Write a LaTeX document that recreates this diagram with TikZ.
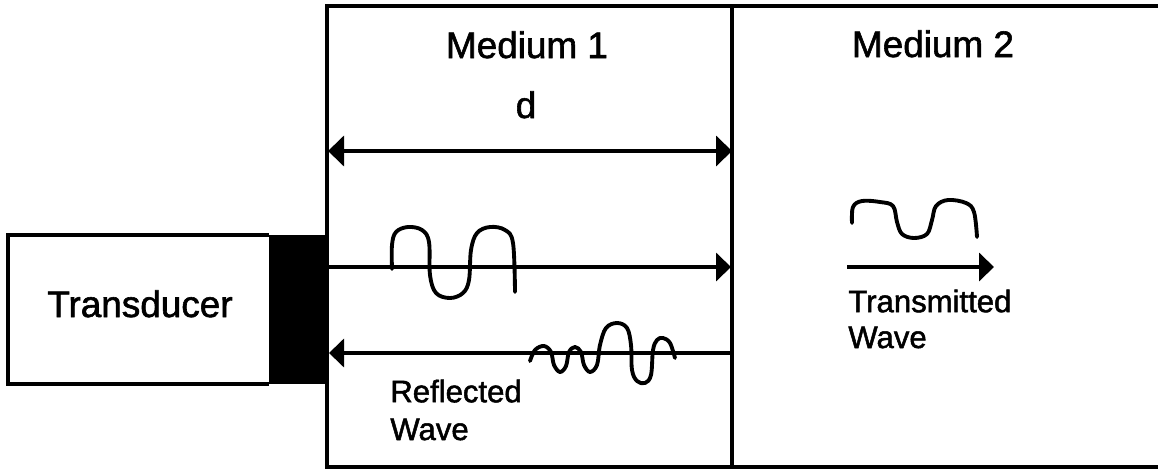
\documentclass[tikz,border=0pt]{standalone}
\usepackage{fontspec}
\setmainfont[FakeBold=1.6]{Liberation Sans}
\usetikzlibrary{arrows.meta}
\tikzset{
  boxline/.style={line width=1.8pt},
  arrline/.style={line width=2.2pt},
  wavy/.style={line width=2.2pt, line cap=round, line join=round},
  tip/.style={-{Triangle[length=0.3cm,width=0.56cm]}},
  bigtext/.style={font=\fontsize{21}{25}\selectfont, inner sep=0pt},
  smalltext/.style={font=\fontsize{17.7}{21.5}\selectfont, inner sep=0pt, align=left},
}
\begin{document}
\begin{tikzpicture}[x=0.02cm,y=-0.02cm]
\useasboundingbox (0,0) rectangle (1158,470);
% media
\draw[boxline] (1158,6) -- (327,6) -- (327,467) -- (1158,467);
\draw[boxline] (732,6) -- (732,467);
% transducer
\fill (269,235) rectangle (327,384);
\draw[boxline] (269,235) -- (8,235) -- (8,384) -- (269,384);
\node[bigtext, anchor=base west] (tr) at (47,317) {Transducer};
% labels
\node[bigtext, anchor=base] (m1) at (527,58) {Medium 1};
\node[bigtext, anchor=base] (dlab) at (526,118) {d};
\node[bigtext, anchor=base] (m2) at (933,57) {Medium 2};
% dimension arrow
\coordinate (dl) at (328,151);
\coordinate (dr) at (732,151);
\draw[arrline, {Triangle[length=0.32cm,width=0.6cm]}-{Triangle[length=0.32cm,width=0.6cm]}] (dl) -- (dr);
% forward arrow
\coordinate (fl) at (328,267);
\coordinate (fr) at (731,267);
\draw[arrline, tip] (fl) -- (fr);
% reflected arrow
\coordinate (rl) at (329,353);
\coordinate (rr) at (732,353);
\draw[arrline, tip] (rr) -- (rl);
% transmitted arrow
\coordinate (tl) at (847,267);
\coordinate (trr) at (994,267);
\draw[arrline, tip] (tl) -- (trr);
% waves
\draw[wavy] plot[smooth, tension=0.6] coordinates {(392,269) (392,245) (396,232) (408,227) (422,230) (429,242) (430,275) (436,293) (450,298) (463,293) (469,280) (471,250) (477,233) (490,227) (505,230) (513,243) (515,292)};
\draw[wavy] plot[smooth, tension=0.6] coordinates {(530,361) (535,350) (544,346) (551,352) (554,365) (560,372) (566,366) (569,352) (575,347) (581,352) (584,365) (590,372) (597,365) (600,345) (606,328) (617,323) (627,328) (631,345) (632,370) (637,381) (645,383) (651,375) (653,350) (657,340) (663,338) (670,343) (675,358)};
\draw[wavy] plot[smooth, tension=0.6] coordinates {(852,223) (853,207) (862,201) (880,202) (893,206) (897,222) (902,234) (914,238) (927,234) (932,220) (936,206) (948,200) (966,203) (974,212) (977,237)};
% wave labels
\node[smalltext, anchor=base west] (rw) at (390,440) {Reflected\\Wave};
\node[smalltext, anchor=base west, font=\fontsize{17.7}{20.4}\selectfont] (tw) at (848,348) {Transmitted\\Wave};
\end{tikzpicture}
\end{document}
